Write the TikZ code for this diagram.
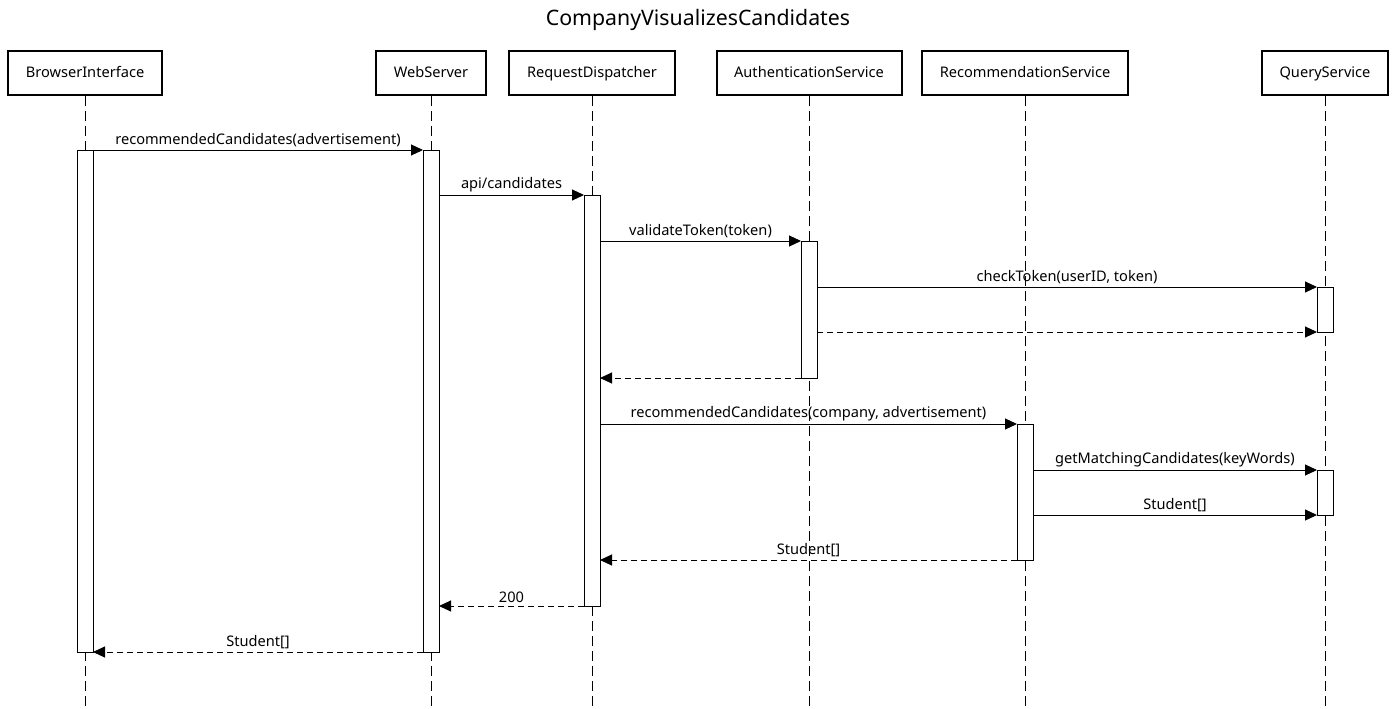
\documentclass[tikz,border=0pt]{standalone}
\usepackage{fontspec}
\setmainfont{Noto Sans}
\usetikzlibrary{arrows.meta}

\tikzset{
    lifehead/.style={draw, line width=2pt, minimum height=44pt, inner sep=0pt, text height=9pt, text depth=0pt, font=\fontsize{14.6}{17}\selectfont},
    lifeline/.style={line width=1pt, dash pattern=on 10pt off 5pt},
    actbar/.style={draw, fill=white, line width=1pt},
    msg/.style={line width=1pt, -{Triangle[length=12pt,width=11pt]}},
    reply/.style={msg, dash pattern=on 6pt off 4pt},
    msglabel/.style={above=1.5pt, inner sep=1pt, font=\fontsize{14.6}{17}\selectfont}
}

\begin{document}
\begin{tikzpicture}[x=1pt, y=-1pt]
    \useasboundingbox (0,0) rectangle (1397,709);

    % Title
    \node[font=\fontsize{21.3}{25}\selectfont] (title) at (698,20) {CompanyVisualizesCandidates};

    % Participant heads
    \node[lifehead, minimum width=154pt] (browser) at (85,73) {BrowserInterface};
    \node[lifehead, minimum width=110pt] (web) at (431,73) {WebServer};
    \node[lifehead, minimum width=166pt] (disp) at (592,73) {RequestDispatcher};
    \node[lifehead, minimum width=185pt] (auth) at (809,73) {AuthenticationService};
    \node[lifehead, minimum width=206pt] (recom) at (1025,73) {RecommendationService};
    \node[lifehead, minimum width=126pt] (query) at (1325,73) {QueryService};

    % Lifelines
    \foreach \p in {browser, web, disp, auth, recom, query}
        \draw[lifeline] (\p.south) -- (\p.south |- 0,709);

    % Activation bars
    \draw[actbar] (77,150) rectangle (93,652);
    \draw[actbar] (423,150) rectangle (439,652);
    \draw[actbar] (584,195) rectangle (600,606);
    \draw[actbar] (801,241) rectangle (817,378);
    \draw[actbar] (1317,287) rectangle (1333,332);
    \draw[actbar] (1017,424) rectangle (1033,560);
    \draw[actbar] (1317,470) rectangle (1333,515);

    % Message end points
    \coordinate (m1a) at (93,150);   \coordinate (m1b) at (423,150);
    \coordinate (m2a) at (439,195);  \coordinate (m2b) at (584,195);
    \coordinate (m3a) at (600,241);  \coordinate (m3b) at (801,241);
    \coordinate (m4a) at (817,287);  \coordinate (m4b) at (1317,287);
    \coordinate (m5a) at (817,332);  \coordinate (m5b) at (1317,332);
    \coordinate (m6a) at (801,378);  \coordinate (m6b) at (600,378);
    \coordinate (m7a) at (600,424);  \coordinate (m7b) at (1017,424);
    \coordinate (m8a) at (1033,470); \coordinate (m8b) at (1317,470);
    \coordinate (m9a) at (1033,515); \coordinate (m9b) at (1317,515);
    \coordinate (m10a) at (1017,560); \coordinate (m10b) at (600,560);
    \coordinate (m11a) at (584,606); \coordinate (m11b) at (439,606);
    \coordinate (m12a) at (423,652); \coordinate (m12b) at (93,652);

    % Calls
    \draw[msg] (m1a) -- node[msglabel] {recommendedCandidates(advertisement)} (m1b);
    \draw[msg] (m2a) -- node[msglabel] {api/candidates} (m2b);
    \draw[msg] (m3a) -- node[msglabel] {validateToken(token)} (m3b);
    \draw[msg] (m4a) -- node[msglabel] {checkToken(userID, token)} (m4b);
    \draw[reply] (m5a) -- (m5b);
    \draw[reply] (m6a) -- (m6b);
    \draw[msg] (m7a) -- node[msglabel] {recommendedCandidates(company, advertisement)} (m7b);
    \draw[msg] (m8a) -- node[msglabel] {getMatchingCandidates(keyWords)} (m8b);
    \draw[msg] (m9a) -- node[msglabel] {Student[]} (m9b);

    % Returns
    \draw[reply] (m10a) -- node[msglabel] {Student[]} (m10b);
    \draw[reply] (m11a) -- node[msglabel] {200} (m11b);
    \draw[reply] (m12a) -- node[msglabel] {Student[]} (m12b);
\end{tikzpicture}
\end{document}
